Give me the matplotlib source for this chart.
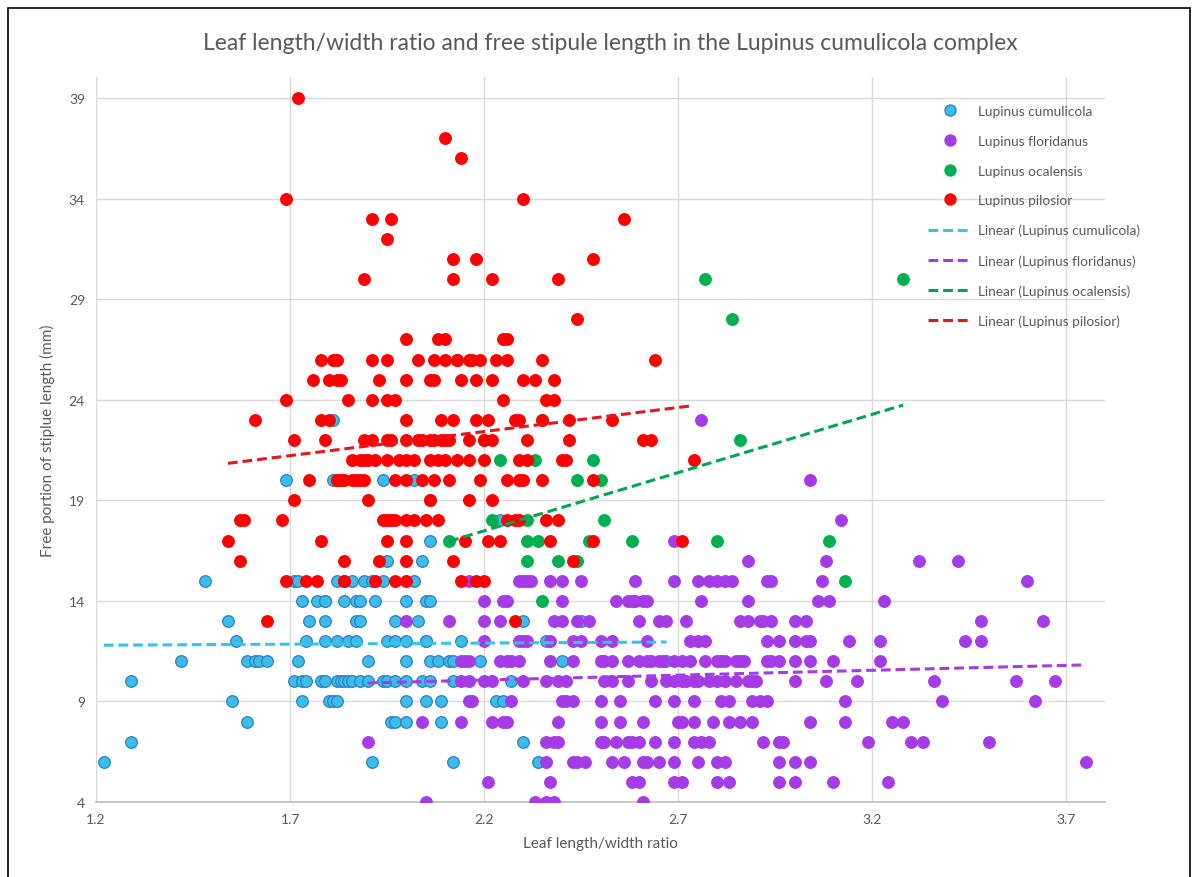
import numpy as np
import matplotlib
matplotlib.use("Agg")
import matplotlib.pyplot as plt
from matplotlib.lines import Line2D
from matplotlib.patches import Rectangle

plt.rcParams['font.family'] = ['Lato', 'DejaVu Sans']

# free stipule length (mm) -> leaf length/width ratios, read row by row
cumulicola_rows = {
    23: [1.81],
    20: [1.69, 1.81, 1.94, 2.02],
    19: [2.06],
    18: [2.24],
    17: [2.06],
    16: [1.95, 2.04],
    15: [1.48, 1.71, 1.72, 1.82, 1.86, 1.89, 1.91, 1.94, 2.02],
    14: [1.73, 1.77, 1.79, 1.79, 1.84, 1.87, 1.88, 1.92, 2.00, 2.05, 2.06],
    13: [1.54, 1.75, 1.79, 1.87, 1.88, 1.97, 2.03, 2.30, 2.45],
    12: [1.56, 1.74, 1.79, 1.82, 1.85, 1.87, 1.95, 1.97, 2.00, 2.05, 2.05, 2.14, 2.36],
    11: [1.42, 1.59, 1.61, 1.62, 1.64, 1.72, 1.90, 2.00, 2.06, 2.08, 2.11, 2.12, 2.19, 2.40, 2.67],
    10: [1.29, 1.71, 1.73, 1.74, 1.78, 1.79, 1.82, 1.83, 1.84, 1.85, 1.86, 1.88, 1.90, 1.94,
         1.95, 1.97, 2.00, 2.04, 2.06, 2.12, 2.27],
    9: [1.55, 1.73, 1.80, 1.81, 1.82, 2.00, 2.05, 2.09, 2.23, 2.25],
    8: [1.59, 1.96, 1.97, 2.00, 2.09],
    7: [1.29, 2.30],
    6: [1.22, 1.91, 2.12, 2.34],
}

floridanus_rows = {
    23: [2.76],
    20: [3.04],
    18: [3.12],
    17: [2.69],
    16: [2.88, 3.08, 3.32, 3.42],
    15: [2.16, 2.29, 2.30, 2.31, 2.32, 2.37, 2.40, 2.45, 2.59, 2.69, 2.75, 2.78, 2.80, 2.82,
         2.84, 2.93, 2.94, 3.07, 3.60],
    14: [2.20, 2.25, 2.26, 2.40, 2.54, 2.57, 2.58, 2.59, 2.61, 2.62, 2.76, 2.88, 3.06, 3.09, 3.23],
    13: [2.00, 2.11, 2.20, 2.24, 2.38, 2.40, 2.44, 2.47, 2.60, 2.65, 2.67, 2.72, 2.86, 2.88,
         2.91, 2.92, 2.94, 3.00, 3.03, 3.48, 3.64],
    12: [2.20, 2.29, 2.30, 2.31, 2.37, 2.43, 2.45, 2.50, 2.53, 2.62, 2.73, 2.75, 2.77, 2.93,
         2.96, 3.00, 3.03, 3.04, 3.14, 3.22, 3.44, 3.48],
    11: [2.14, 2.15, 2.16, 2.24, 2.26, 2.27, 2.29, 2.37, 2.43, 2.50, 2.51, 2.53, 2.57, 2.60,
         2.62, 2.63, 2.65, 2.66, 2.69, 2.71, 2.73, 2.77, 2.80, 2.81, 2.82, 2.85, 2.86, 2.87,
         2.93, 2.94, 2.96, 3.00, 3.04, 3.10, 3.22],
    10: [2.14, 2.16, 2.20, 2.22, 2.30, 2.36, 2.39, 2.41, 2.51, 2.53, 2.57, 2.63, 2.67, 2.69,
         2.71, 2.72, 2.74, 2.75, 2.78, 2.80, 2.82, 2.85, 2.88, 2.89, 2.90, 3.00, 3.08, 3.16,
         3.36, 3.57, 3.67],
    9: [2.16, 2.17, 2.27, 2.40, 2.41, 2.43, 2.50, 2.55, 2.64, 2.69, 2.74, 2.81, 2.83, 2.89,
        2.91, 2.93, 3.13, 3.38, 3.62],
    8: [2.04, 2.14, 2.22, 2.25, 2.26, 2.39, 2.50, 2.55, 2.61, 2.70, 2.71, 2.74, 2.79, 2.83,
        2.86, 2.89, 3.04, 3.13, 3.25, 3.28],
    7: [1.90, 2.36, 2.38, 2.39, 2.50, 2.51, 2.54, 2.57, 2.58, 2.60, 2.64, 2.69, 2.74, 2.76,
        2.78, 2.92, 2.96, 2.97, 3.19, 3.30, 3.33, 3.50],
    6: [2.36, 2.43, 2.44, 2.46, 2.53, 2.56, 2.61, 2.62, 2.65, 2.69, 2.75, 2.80, 2.82, 2.96,
        3.00, 3.04, 3.75],
    5: [2.21, 2.37, 2.58, 2.60, 2.69, 2.71, 2.80, 2.83, 2.96, 3.00, 3.10, 3.24],
    4: [2.05, 2.33, 2.36, 2.38, 2.61],
}

ocalensis_rows = {
    30: [2.77, 3.28],
    28: [2.84],
    23: [2.35],
    22: [2.86],
    21: [2.24, 2.33, 2.48],
    20: [2.44, 2.50],
    18: [2.22, 2.31, 2.51],
    17: [2.11, 2.31, 2.34, 2.47, 2.58, 2.80, 3.09],
    16: [2.31, 2.39, 2.44],
    15: [3.13],
    14: [2.35],
}

pilosior_rows = {
    39: [1.72],
    37: [2.10],
    36: [2.14],
    34: [1.69, 2.30],
    33: [1.91, 1.96, 2.56],
    32: [1.95],
    31: [2.12, 2.18, 2.48],
    30: [1.89, 2.12, 2.22, 2.39],
    28: [2.44],
    27: [2.00, 2.08, 2.10, 2.25, 2.26],
    26: [1.78, 1.81, 1.82, 1.91, 1.95, 2.03, 2.07, 2.10, 2.13, 2.13, 2.16, 2.17, 2.19, 2.23,
         2.26, 2.35, 2.64],
    25: [1.76, 1.80, 1.82, 1.83, 1.93, 2.00, 2.06, 2.07, 2.14, 2.18, 2.22, 2.30, 2.33, 2.38],
    24: [1.69, 1.85, 1.91, 1.95, 1.97, 2.25, 2.36, 2.38],
    23: [1.61, 1.78, 1.80, 2.00, 2.09, 2.12, 2.18, 2.21, 2.28, 2.29, 2.35, 2.42, 2.53],
    22: [1.71, 1.79, 1.89, 1.91, 1.95, 1.96, 2.00, 2.03, 2.04, 2.06, 2.07, 2.09, 2.10, 2.11,
         2.16, 2.20, 2.20, 2.22, 2.31, 2.42, 2.61, 2.63],
    21: [1.86, 1.88, 1.89, 1.90, 1.92, 1.95, 1.98, 2.00, 2.02, 2.06, 2.08, 2.10, 2.13, 2.16,
         2.20, 2.29, 2.31, 2.40, 2.41, 2.74],
    20: [1.75, 1.82, 1.82, 1.83, 1.84, 1.86, 1.87, 1.88, 1.89, 1.97, 2.00, 2.04, 2.07, 2.11,
         2.19, 2.26, 2.29, 2.30, 2.35, 2.48],
    19: [1.71, 1.90, 2.06, 2.16, 2.22],
    18: [1.57, 1.58, 1.68, 1.94, 1.95, 1.96, 1.97, 2.00, 2.02, 2.05, 2.08, 2.26, 2.28, 2.29,
         2.36, 2.39],
    17: [1.54, 1.78, 1.95, 2.00, 2.15, 2.21, 2.24, 2.37, 2.48, 2.71],
    16: [1.57, 1.84, 1.93, 2.00, 2.12, 2.43],
    15: [1.69, 1.74, 1.77, 1.84, 1.84, 1.92, 1.97, 2.00, 2.14, 2.18, 2.20],
    13: [1.64, 2.28],
}

species = ["Lupinus cumulicola", "Lupinus floridanus", "Lupinus ocalensis", "Lupinus pilosior"]
all_rows = [cumulicola_rows, floridanus_rows, ocalensis_rows, pilosior_rows]
fills = ["#3BBDEB", "#A43BE6", "#00B050", "#FF0000"]
edges = ["#2F7FC1", "#A43BE6", "#00B050", "#FF0000"]
trend_colors = ["#34C4E6", "#A43BE6", "#00A651", "#E8141B"]


def expand(rows):
    xs, ys = [], []
    for y, xlist in rows.items():
        for x in xlist:
            xs.append(x)
            ys.append(y)
    return np.array(xs), np.array(ys)


fig = plt.figure(figsize=(11.96, 8.78), dpi=100)
ax = fig.add_axes([0.0803, 0.0854, 0.8436, 0.8258])

handles = []
for i, rows in enumerate(all_rows):
    x, y = expand(rows)
    ax.scatter(x, y, s=70, color=fills[i], edgecolors=edges[i], linewidths=0.9, zorder=3 + i)
    handles.append(Line2D([], [], linestyle='none', marker='o', markersize=8,
                          markerfacecolor=fills[i], markeredgecolor=edges[i], markeredgewidth=0.9))

for i, rows in enumerate(all_rows):
    x, y = expand(rows)
    k, b = np.polyfit(x, y, 1)
    xx = np.array([x.min(), x.max()])
    ax.plot(xx, k * xx + b, color=trend_colors[i], linestyle=(0, (3.2, 1.6)), linewidth=2.2, zorder=10)
    handles.append(Line2D([], [], color=trend_colors[i], linestyle=(0, (3.2, 1.6)), linewidth=2.2))

labels = species + ["Linear (%s)" % s for s in species]

ax.set_xlim(1.2, 3.8)
ax.set_ylim(4, 40.05)
ax.set_xticks(np.arange(1.2, 3.71, 0.5))
ax.set_yticks(np.arange(4, 40, 5))
ax.set_xticklabels(["1.2", "1.7", "2.2", "2.7", "3.2", "3.7"])
ax.grid(True, color="#D9D9D9", linewidth=1.0, zorder=0)
ax.set_axisbelow(True)
for side in ["top", "right"]:
    ax.spines[side].set_visible(False)
ax.spines["left"].set_color("#D9D9D9")
ax.spines["bottom"].set_color("#BFBFBF")
ax.spines["bottom"].set_linewidth(1.2)
ax.tick_params(length=0, colors="#595959", labelsize=10, pad=8)

ax.set_xlabel("Leaf length/width ratio", fontsize=11, color="#595959", labelpad=8)
ax.set_ylabel("Free portion of stiplue length (mm)", fontsize=11, color="#595959", labelpad=10)
fig.text(0.51, 0.951, "Leaf length/width ratio and free stipule length in the Lupinus cumulicola complex",
         ha="center", va="center", fontsize=16.5, color="#595959")

leg = ax.legend(handles, labels, loc="upper left", bbox_to_anchor=(0.812, 0.978),
                frameon=False, fontsize=9.8, labelspacing=1.3, handlelength=3.3,
                handletextpad=0.4)
for t in leg.get_texts():
    t.set_color("#595959")

fig.patches.append(Rectangle((0.007, -0.01), 0.988, 1.0, transform=fig.transFigure,
                             fill=False, edgecolor="black", linewidth=1.2))

fig.savefig("out.png", dpi=100)
